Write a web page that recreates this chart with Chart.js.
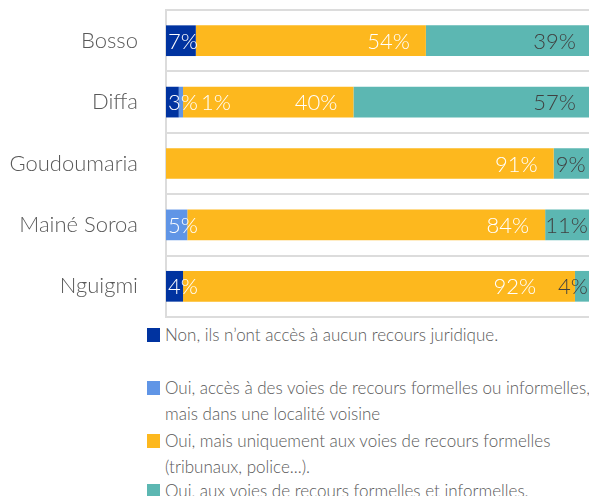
<!DOCTYPE html>
<html>
<head>
<meta charset="utf-8">
<script src="https://cdn.jsdelivr.net/npm/chart.js@4"></script>
<style>
    body { margin: 0; width: 589px; height: 496px; overflow: hidden; background: #fff; font-family: Lato, "Open Sans", sans-serif; }
    #wrap { position: absolute; left: 0; top: 0; width: 593px; height: 322px; }
    .leg { position: absolute; left: 147px; font-size: 17px; font-weight: 300; color: #595959; line-height: 26px; white-space: nowrap; }
    .leg span.box { position: absolute; left: 0; top: 6px; width: 13px; height: 14px; }
    .leg span.txt { position: absolute; left: 18px; top: 0; }
</style>
</head>
<body>
<div id="wrap"><canvas id="chart" width="593" height="322"></canvas></div>
<div id="legend"></div>
<script>
var categories = ["Bosso", "Diffa", "Goudoumaria", "Mainé Soroa", "Nguigmi"]

var seriesNames = [
    "Non, ils n’ont accès à aucun recours juridique.",
    "Oui, accès à des voies de recours formelles ou informelles,\nmais dans une localité voisine",
    "Oui, mais uniquement aux voies de recours formelles\n(tribunaux, police...).",
    "Oui, aux voies de recours formelles et informelles."
]
var seriesColors = ['rgb(0, 51, 160)', 'rgb(96, 149, 230)', 'rgb(253, 184, 30)', 'rgb(92, 183, 178)']
var labelColors = ['#ffffff', '#ffffff', '#ffffff', '#404040']

var aucun = [7, 3, 0, 0, 4]
var voisine = [0, 1, 0, 5, 0]
var formelles = [54, 40, 91, 84, 92]
var toutes = [39, 57, 9, 11, 4]

var legendTops = [322, 375, 428, 478]

// values drawn at the inner end of each segment, like the excel labels
var valueLabels = {
    id: 'valueLabels',
    afterDatasetsDraw(chart) {
        let ctx = chart.ctx
        ctx.save()
        ctx.font = '300 22px Lato, "Open Sans", sans-serif'
        ctx.textBaseline = 'middle'
        ctx.textAlign = 'left'
        chart.data.labels.forEach((cat, j) => {
            let items = []
            chart.data.datasets.forEach((ds, i) => {
                let v = ds.data[j]
                if (!v) return
                let bar = chart.getDatasetMeta(i).data[j]
                let txt = v + '%'
                let w = ctx.measureText(txt).width
                let left = Math.min(bar.base, bar.x), right = Math.min(Math.max(bar.base, bar.x), chart.chartArea.right)
                let x = (right - left - 18 >= w) ? right - 16 - w : left + 2
                items.push({ txt: txt, w: w, x: x, y: bar.y, color: labelColors[i] })
            })
            // push right when small labels collide
            for (let k = 1; k < items.length; k++) {
                let prevEnd = items[k - 1].x + items[k - 1].w
                if (items[k].x < prevEnd + 3) items[k].x = prevEnd + 3
            }
            // keep inside the picture, push left if needed
            let last = items[items.length - 1]
            if (last.x + last.w > 588) last.x = 588 - last.w
            for (let k = items.length - 2; k >= 0; k--) {
                if (items[k].x + items[k].w > items[k + 1].x - 3) items[k].x = items[k + 1].x - 22 - items[k].w
            }
            items.map((it) => {
                ctx.fillStyle = it.color
                ctx.fillText(it.txt, it.x, it.y + 1)
            })
        })
        ctx.restore()
    }
}

new Chart(document.getElementById('chart').getContext('2d'), {
    type: 'bar',
    data: {
        labels: categories,
        datasets: [aucun, voisine, formelles, toutes].map((d, i) => ({
            label: seriesNames[i],
            data: d,
            backgroundColor: seriesColors[i],
            borderWidth: 0,
            categoryPercentage: 1,
            barPercentage: 0.5
        }))
    },
    options: {
        indexAxis: 'y',
        responsive: false,
        animation: false,
        layout: { padding: { top: 10, right: 1, bottom: 5, left: 0 } },
        plugins: { legend: { display: false }, tooltip: { enabled: false } },
        scales: {
            x: { stacked: true, min: 0, max: 100, display: false },
            y: {
                stacked: true,
                afterFit: (s) => { s.width = 166 },
                grid: { offset: true, color: '#dcdcdc', lineWidth: 2, drawTicks: true, tickLength: 28, tickColor: 'rgba(0,0,0,0)' },
                border: { color: '#dcdcdc', width: 2 },
                ticks: { color: '#595959', padding: 0, font: { family: 'Lato, "Open Sans", sans-serif', size: 22, weight: 300, lineHeight: 0.1 } }
            }
        }
    },
    plugins: [valueLabels]
})

seriesNames.map((name, i) => {
    let div = document.createElement('div')
    div.className = 'leg'
    div.style.top = legendTops[i] + 'px'
    div.innerHTML = `<span class="box" style="background:${seriesColors[i]}"></span><span class="txt">${name.replace('\n', '<br>')}</span>`
    document.getElementById('legend').appendChild(div)
})
</script>
</body>
</html>
